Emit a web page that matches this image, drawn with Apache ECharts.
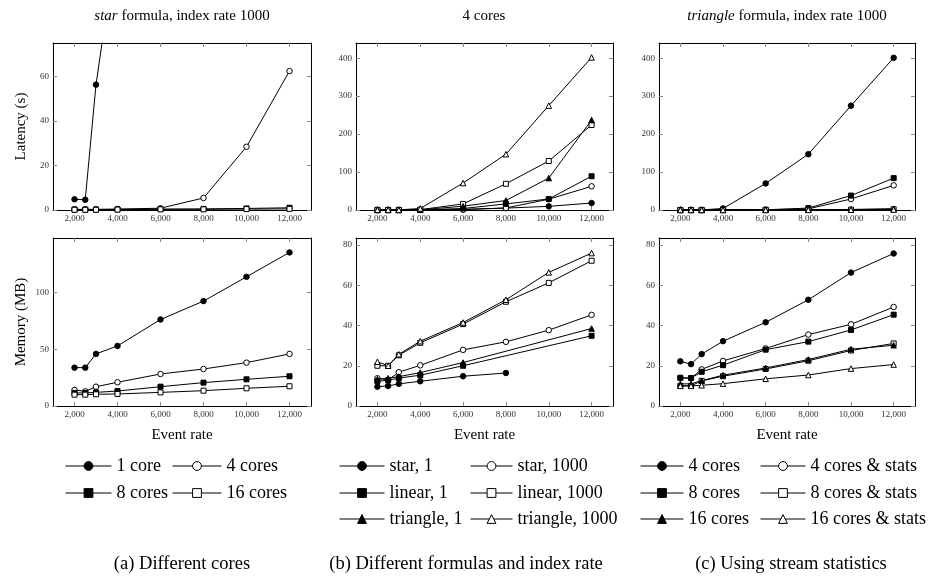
<!DOCTYPE html>
<html>
<head>
<meta charset="utf-8">
<script src="https://cdn.jsdelivr.net/npm/echarts@6/dist/echarts.min.js"></script>
<style>
  html, body { margin: 0; padding: 0; background: #fff; }
  #main { width: 934px; height: 581px; }
</style>
</head>
<body>
<div id="main"></div>
<script>
// event rates on the x axis
const rates = [2000, 2500, 3000, 4000, 6000, 8000, 10000, 12000];
const rateTicks = [2000, 4000, 6000, 8000, 10000, 12000];

// (a) star formula, index rate 1000 -- latency (s)
const latCores1  = [4.8, 4.6, 56.3, 123, null, null, null, null];
const latCores4  = [0.3, 0.3, 0.3, 0.4, 0.8, 5.4, 28.4, 62.4];
const latCores8  = [0.2, 0.2, 0.2, 0.3, 0.4, 0.5, 0.7, 1.0];
const latCores16 = [0.1, 0.1, 0.1, 0.2, 0.3, 0.3, 0.4, 0.5];
// (a) memory (MB)
const memCores1  = [33.8, 33.8, 45.9, 52.9, 76.2, 92.4, 113.8, 135.3];
const memCores4  = [14.1, 12.9, 17.0, 20.9, 28.2, 32.6, 38.2, 45.9];
const memCores8  = [11.5, 11.5, 12.0, 13.2, 17.0, 20.6, 23.5, 26.2];
const memCores16 = [10.0, 10.0, 10.3, 10.6, 12.0, 13.5, 15.6, 17.4];

// (b) 4 cores -- latency
const latStar1    = [0.1, 0.1, 0.1, 0.2, 2, 5, 9.6, 18.4];
const latStar1000 = [0.3, 0.3, 0.3, 0.4, 0.8, 5.4, 28.4, 62.4];
const latLin1     = [0.1, 0.1, 0.1, 0.2, 4, 16, 29, 89];
const latLin1000  = [0.2, 0.2, 0.2, 1, 16, 69, 129, 224];
const latTri1     = [0.1, 0.1, 0.1, 0.5, 10, 25, 84, 237];
const latTri1000  = [0.3, 0.3, 0.3, 4, 71, 147, 275, 402];
// (b) memory
const memStar1    = [9.6, 10.0, 11.0, 12.3, 14.8, 16.4, null, null];
const memStar1000 = [13.8, 13.0, 16.8, 20.2, 27.9, 31.9, 37.7, 45.3];
const memLin1     = [12.3, 12.8, 13.9, 15.3, 20.0, null, null, 34.9];
const memLin1000  = [20.0, 20.0, 25.2, 31.4, 40.7, 51.8, 61.2, 72.2];
const memTri1     = [13.3, 13.8, 14.6, 16.6, 21.6, null, null, 38.5];
const memTri1000  = [22.0, 20.0, 25.7, 32.2, 41.5, 52.8, 66.4, 76.0];

// (c) triangle formula, index rate 1000 -- latency
const lat4c   = [0.3, 0.3, 0.3, 4, 70, 147, 275, 401];
const lat4cS  = [0.1, 0.1, 0.1, 0.3, 0.5, 3, 29, 65];
const lat8c   = [0.1, 0.1, 0.1, 0.3, 0.6, 5, 38, 84];
const lat8cS  = [0.1, 0.1, 0.1, 0.2, 0.3, 0.5, 1, 2];
const lat16c  = [0.1, 0.1, 0.1, 0.2, 0.3, 0.6, 1.5, 3.5];
const lat16cS = [0.1, 0.1, 0.1, 0.1, 0.2, 0.3, 0.5, 1];
// (c) memory
const mem4c   = [22.2, 20.8, 25.8, 32.2, 41.6, 52.8, 66.3, 75.8];
const mem4cS  = [14.0, 13.8, 18.2, 22.4, 28.6, 35.5, 40.6, 49.2];
const mem8c   = [14.0, 13.9, 17.0, 20.3, 28.0, 32.0, 37.8, 45.4];
const mem8cS  = [10.0, 10.0, 12.5, 14.8, 18.4, 22.5, 27.6, 31.1];
const mem16c  = [11.0, 11.0, 12.6, 15.3, 18.9, 23.1, 28.2, 30.2];
const mem16cS = [10.0, 10.0, 10.3, 11.1, 13.5, 15.4, 18.6, 20.6];

const serif = "'Liberation Serif', 'DejaVu Serif', serif";

// legend key -> [marker, filled?]  (prefix keeps panel (a) and (c) names apart)
const marks = {
  'a|1 core': ['circle', 1], 'a|4 cores': ['circle', 0], 'a|8 cores': ['rect', 1], 'a|16 cores': ['rect', 0],
  'b|star, 1': ['circle', 1], 'b|star, 1000': ['circle', 0], 'b|linear, 1': ['rect', 1],
  'b|linear, 1000': ['rect', 0], 'b|triangle, 1': ['triangle', 1], 'b|triangle, 1000': ['triangle', 0],
  'c|4 cores': ['circle', 1], 'c|4 cores & stats': ['circle', 0], 'c|8 cores': ['rect', 1],
  'c|8 cores & stats': ['rect', 0], 'c|16 cores': ['triangle', 1], 'c|16 cores & stats': ['triangle', 0]
};

const panels = [
  { grid: {left: 53, top: 43, width: 258, height: 167}, yMax: 75, yTicks: [0, 20, 40, 60], yName: 'Latency (s)',
    lines: [['a|1 core', latCores1], ['a|4 cores', latCores4], ['a|8 cores', latCores8], ['a|16 cores', latCores16]] },
  { grid: {left: 356, top: 43, width: 257, height: 167}, yMax: 440, yTicks: [0, 100, 200, 300, 400],
    lines: [['b|star, 1', latStar1], ['b|star, 1000', latStar1000], ['b|linear, 1', latLin1],
            ['b|linear, 1000', latLin1000], ['b|triangle, 1', latTri1], ['b|triangle, 1000', latTri1000]] },
  { grid: {left: 659, top: 43, width: 256, height: 167}, yMax: 440, yTicks: [0, 100, 200, 300, 400],
    lines: [['c|4 cores', lat4c], ['c|4 cores & stats', lat4cS], ['c|8 cores', lat8c],
            ['c|8 cores & stats', lat8cS], ['c|16 cores', lat16c], ['c|16 cores & stats', lat16cS]] },
  { grid: {left: 53, top: 238, width: 258, height: 168}, yMax: 148, yTicks: [0, 50, 100], yName: 'Memory (MB)', xName: 'Event rate',
    lines: [['a|1 core', memCores1], ['a|4 cores', memCores4], ['a|8 cores', memCores8], ['a|16 cores', memCores16]] },
  { grid: {left: 356, top: 238, width: 257, height: 168}, yMax: 83.5, yTicks: [0, 20, 40, 60, 80], xName: 'Event rate',
    lines: [['b|star, 1', memStar1], ['b|star, 1000', memStar1000], ['b|linear, 1', memLin1],
            ['b|linear, 1000', memLin1000], ['b|triangle, 1', memTri1], ['b|triangle, 1000', memTri1000]] },
  { grid: {left: 659, top: 238, width: 256, height: 168}, yMax: 83.5, yTicks: [0, 20, 40, 60, 80], xName: 'Event rate',
    lines: [['c|4 cores', mem4c], ['c|4 cores & stats', mem4cS], ['c|8 cores', mem8c],
            ['c|8 cores & stats', mem8cS], ['c|16 cores', mem16c], ['c|16 cores & stats', mem16cS]] }
];

// legend entries: [key, line start x, text start x, row center y]
const legendItems = [
  ['a|1 core', 65, 116, 466], ['a|4 cores', 172, 226, 466],
  ['a|8 cores', 65, 116, 493], ['a|16 cores', 172, 226, 493],
  ['b|star, 1', 339, 389, 466], ['b|star, 1000', 470, 517, 466],
  ['b|linear, 1', 339, 389, 493], ['b|linear, 1000', 470, 517, 493],
  ['b|triangle, 1', 339, 389, 519], ['b|triangle, 1000', 470, 517, 519],
  ['c|4 cores', 640, 688, 466], ['c|4 cores & stats', 760, 810, 466],
  ['c|8 cores', 640, 688, 493], ['c|8 cores & stats', 760, 810, 493],
  ['c|16 cores', 640, 688, 519], ['c|16 cores & stats', 760, 810, 519]
];

const tickLabel = { fontFamily: serif, fontSize: 9, color: '#333' };
const frameLine = { show: true, onZero: false, lineStyle: { color: '#000', width: 1 } };
const tickStyle = { color: '#888', width: 1 };

let xAxis = [], yAxis = [], series = [];
panels.forEach((p, i) => {
  xAxis.push({
    gridIndex: i, type: 'value', min: 1000, max: 13000, position: 'bottom',
    axisLine: frameLine,
    axisTick: { inside: true, length: 4, customValues: rateTicks, lineStyle: tickStyle },
    axisLabel: { ...tickLabel, margin: 4, customValues: rateTicks,
      formatter: v => v.toLocaleString('en-US') },
    splitLine: { show: false },
    name: p.xName || '', nameLocation: 'middle', nameGap: 22,
    nameTextStyle: { fontFamily: serif, fontSize: 15, color: '#000' }
  });
  xAxis.push({
    gridIndex: i, type: 'value', min: 1000, max: 13000, position: 'top',
    axisLine: frameLine,
    axisTick: { inside: true, length: 4, customValues: rateTicks, lineStyle: tickStyle },
    axisLabel: { show: false }, splitLine: { show: false }
  });
  yAxis.push({
    gridIndex: i, type: 'value', min: 0, max: p.yMax, position: 'left',
    axisLine: frameLine,
    axisTick: { inside: true, length: 4, customValues: p.yTicks, lineStyle: tickStyle },
    axisLabel: { ...tickLabel, margin: 4, customValues: p.yTicks },
    splitLine: { show: false },
    name: p.yName || '', nameLocation: 'middle', nameGap: 24,
    nameTextStyle: { fontFamily: serif, fontSize: 15, color: '#000' }
  });
  yAxis.push({
    gridIndex: i, type: 'value', min: 0, max: p.yMax, position: 'right',
    axisLine: frameLine,
    axisTick: { inside: true, length: 4, customValues: p.yTicks, lineStyle: tickStyle },
    axisLabel: { show: false }, splitLine: { show: false }
  });
  p.lines.forEach(([key, vals]) => {
    const [sym, filled] = marks[key];
    series.push({
      name: key, type: 'line', xAxisIndex: 2 * i, yAxisIndex: 2 * i,
      data: rates.map((r, k) => [r, vals[k] == null ? '-' : vals[k]]),
      connectNulls: true,
      symbol: sym,
      symbolSize: sym === 'rect' ? 5 : sym === 'triangle' ? 5.5 : 5.5,
      showSymbol: true,
      color: '#000',
      lineStyle: { color: '#000', width: 1 },
      itemStyle: { color: filled ? '#000' : '#fff', borderColor: '#000', borderWidth: 1 },
      emphasis: { disabled: true },
      animation: false
    });
  });
});

const legend = legendItems.map(([key, x0, xt, yc]) => ({
  data: [key], left: x0, top: yc - 9, padding: 0, itemGap: 0,
  itemWidth: xt - 5 - x0, itemHeight: 11, selectedMode: false,
  itemStyle: { borderWidth: 1 },
  lineStyle: { width: 1 },
  formatter: name => name.split('|')[1],
  textStyle: { fontFamily: serif, fontSize: 18, color: '#000' }
}));

const titleStyle = size => ({
  fontFamily: serif, fontSize: size, fontWeight: 'normal', color: '#000',
  rich: { i: { fontFamily: serif, fontSize: size, fontStyle: 'italic', color: '#000' } }
});
const title = [
  { text: '{i|star} formula, index rate 1000', left: 182, top: 9, textAlign: 'center', padding: 0, textStyle: titleStyle(15) },
  { text: '4 cores', left: 484, top: 9, textAlign: 'center', padding: 0, textStyle: titleStyle(15) },
  { text: '{i|triangle} formula, index rate 1000', left: 787, top: 9, textAlign: 'center', padding: 0, textStyle: titleStyle(15) },
  { text: '(a) Different cores', left: 182, top: 555, textAlign: 'center', padding: 0, textStyle: titleStyle(18.5) },
  { text: '(b) Different formulas and index rate', left: 466, top: 555, textAlign: 'center', padding: 0, textStyle: titleStyle(18.5) },
  { text: '(c) Using stream statistics', left: 791, top: 555, textAlign: 'center', padding: 0, textStyle: titleStyle(18.5) }
];

const chart = echarts.init(document.getElementById('main'));
chart.setOption({
  backgroundColor: '#fff',
  animation: false,
  title,
  legend,
  grid: panels.map(p => p.grid),
  xAxis,
  yAxis,
  series
});
</script>
</body>
</html>
